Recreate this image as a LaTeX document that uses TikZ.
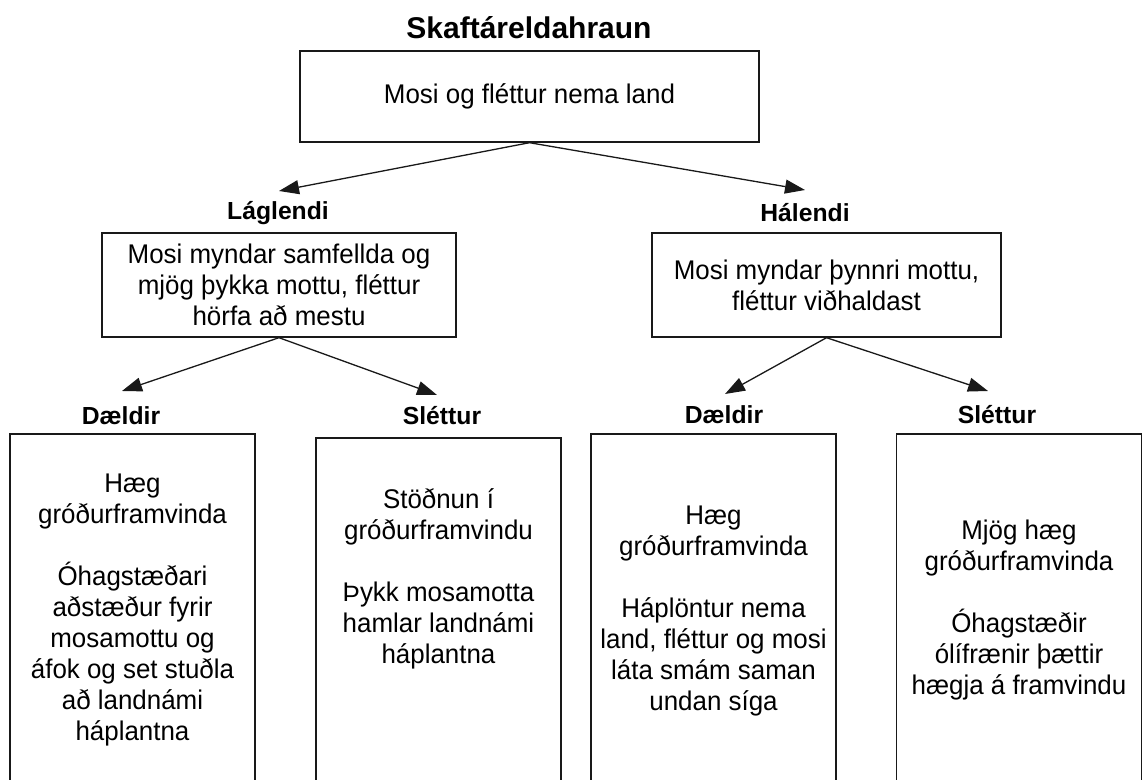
\documentclass[tikz,border=0pt]{standalone}
\usepackage{fontspec}
\setmainfont{Liberation Sans}
\newfontfamily\bodyfam[FakeStretch=0.96]{Liberation Sans}
\usetikzlibrary{arrows.meta}
\begin{document}
\begin{tikzpicture}[x=1pt,y=-1pt,
  box/.style={draw=black!90, line width=1.4pt, inner sep=0pt},
  body/.style={font=\bodyfam\fontsize{27}{31}\selectfont, align=center, inner sep=0pt},
  lbl/.style={font=\fontsize{24.7}{29}\selectfont\bfseries, inner sep=0pt},
  ttl/.style={font=\fontsize{30}{34}\selectfont\bfseries, inner sep=0pt},
  arr/.style={draw=black!90, line width=1.3pt, -{Triangle[length=20pt,width=14pt]}}]
\useasboundingbox (0,0) rectangle (1143,779);
\clip (0,0) rectangle (1143,779);

% title and top box
\node[ttl] (title) at (529,28) {Skaftáreldahraun};
\node[box, body, minimum width=459pt, minimum height=91pt] (top) at (529.5,96.5) {Mosi og fléttur nema land};

% second level
\node[lbl] (lag) at (278,213) {Láglendi};
\node[lbl] (hal) at (805,213) {Hálendi};
\node[box, body, minimum width=354pt, minimum height=104pt] (lagbox) at (279,285)
  {Mosi myndar samfellda og\\mjög þykka mottu, fléttur\\hörfa að mestu};
\node[box, body, minimum width=349pt, minimum height=104pt] (halbox) at (826.5,285)
  {Mosi myndar þynnri mottu,\\fléttur viðhaldast};

\coordinate (tipL) at (279,191);
\coordinate (tipH) at (805,190);
\draw[arr] (top.south) -- (tipL);
\draw[arr] (top.south) -- (tipH);

% third level labels
\node[lbl] (d1) at (121,416) {Dældir};
\node[lbl] (s1) at (442,416) {Sléttur};
\node[lbl] (d2) at (724,415) {Dældir};
\node[lbl] (s2) at (997,415) {Sléttur};

\coordinate (tipD1) at (122,391);
\coordinate (tipS1) at (437,395);
\coordinate (tipD2) at (725,394);
\coordinate (tipS2) at (988,391);
\draw[arr] (lagbox.south) -- (tipD1);
\draw[arr] (lagbox.south) -- (tipS1);
\draw[arr] (halbox.south) -- (tipD2);
\draw[arr] (halbox.south) -- (tipS2);

% bottom boxes (run past the lower edge)
\node[box, minimum width=245pt, minimum height=347pt] (b1) at (132.5,607.5) {};
\node[box, minimum width=245pt, minimum height=343pt] (b2) at (438.5,609.5) {};
\node[box, minimum width=245pt, minimum height=347pt] (b3) at (713.5,607.5) {};
\node[box, minimum width=245pt, minimum height=347pt] (b4) at (1019,607.5) {};

\node[body] (t1) at (132.5,610)
  {Hæg\\gróðurframvinda\\[31pt]Óhagstæðari\\aðstæður fyrir\\mosamottu og\\áfok og set stuðla\\að landnámi\\háplantna};
\node[body] (t2) at (438.5,579)
  {Stöðnun í\\gróðurframvindu\\[31pt]Þykk mosamotta\\hamlar landnámi\\háplantna};
\node[body] (t3) at (713.5,611)
  {Hæg\\gróðurframvinda\\[31pt]Háplöntur nema\\land, fléttur og mosi\\láta smám saman\\undan síga};
\node[body] (t4) at (1019,610.5)
  {Mjög hæg\\gróðurframvinda\\[31pt]Óhagstæðir\\ólífrænir þættir\\hægja á framvindu};
\end{tikzpicture}
\end{document}
